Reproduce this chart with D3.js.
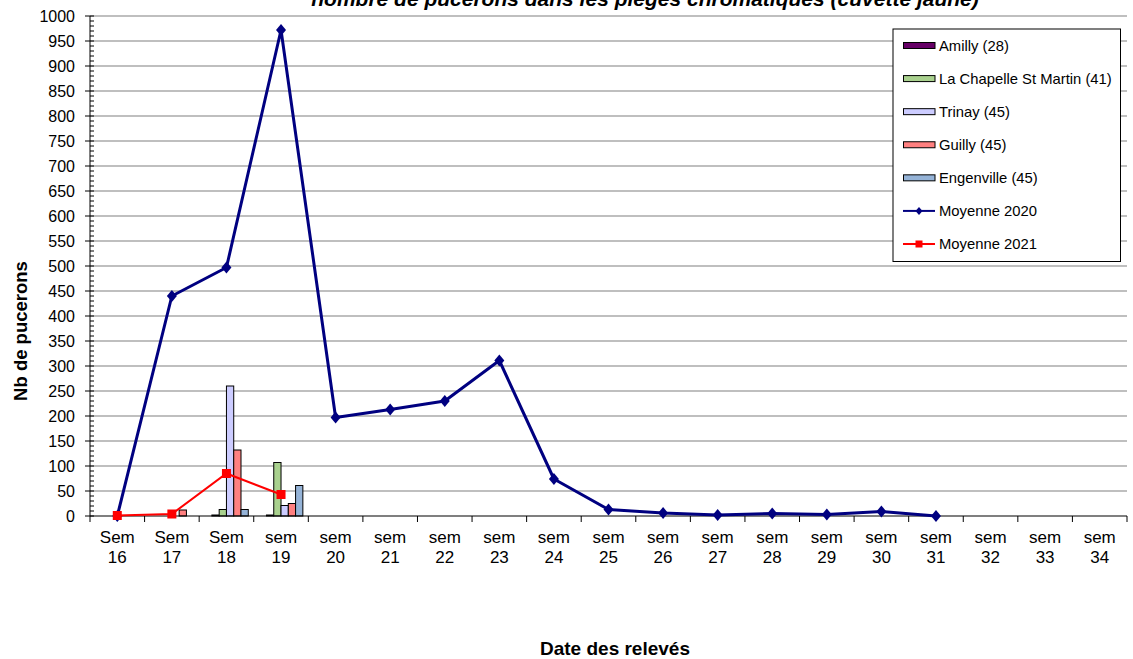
<!DOCTYPE html>
<html>
<head>
<meta charset="utf-8">
<script src="https://cdn.jsdelivr.net/npm/d3@7/dist/d3.min.js"></script>
<style>
  html, body { margin: 0; padding: 0; background: #fff; overflow: hidden; }
  svg { display: block; font-family: "Liberation Sans", Arial, sans-serif; }
</style>
</head>
<body>
<svg id="chart" width="1133" height="659"></svg>
<script>
// ---- DATA ----
const categories = ["Sem 16","Sem 17","Sem 18","sem 19","sem 20","sem 21","sem 22","sem 23","sem 24","sem 25","sem 26","sem 27","sem 28","sem 29","sem 30","sem 31","sem 32","sem 33","sem 34"];
const barSeriesNames = ["Amilly (28)","La Chapelle St Martin (41)","Trinay (45)","Guilly (45)","Engenville (45)"];
const amilly     = [0, 0, 2, 2];
const chapelle   = [0, 0, 13, 107];
const trinay     = [0, 0, 260, 21];
const guilly     = [0, 12, 132, 25];
const engenville = [0, 0, 13, 61];
const moyenne2020 = [0, 440, 497, 972, 197, 213, 230, 311, 74, 13, 6, 2, 5, 3, 9, 0];
const moyenne2021 = [1, 4, 85, 43];
const yTicks = [0,50,100,150,200,250,300,350,400,450,500,550,600,650,700,750,800,850,900,950,1000];
const title = "nombre de pucerons dans les pièges chromatiques (cuvette jaune)";
const yTitle = "Nb de pucerons";
const xTitle = "Date des relevés";

const barColors = ["#660066", "#A9D18E", "#CCCCFF", "#FF8080", "#95B3D7"];
const barSeries = [amilly, chapelle, trinay, guilly, engenville];

// ---- LAYOUT ----
const svg = d3.select("#chart");
const pLeft = 90, pRight = 1127, pTop = 16, pBottom = 516;

const x = d3.scaleBand().domain(categories).range([pLeft, pRight]).padding(0);
const y = d3.scaleLinear().domain([0, 1000]).range([pBottom, pTop]);
const slots = ["__gap"].concat(barSeriesNames);
const xs = d3.scaleBand().domain(slots).range([0, x.bandwidth()]).paddingInner(0).paddingOuter(0.75);

// gridlines
svg.append("g").selectAll("line").data(yTicks.filter(d => d > 0)).join("line")
  .attr("x1", pLeft).attr("x2", pRight)
  .attr("y1", d => y(d)).attr("y2", d => y(d))
  .attr("stroke", "#808080").attr("stroke-width", 1.2);

// bars
const barG = svg.append("g");
barSeries.forEach((arr, si) => {
  barG.selectAll(null).data(arr.map((v, i) => ({v, c: categories[i]})).filter(d => d.v > 0)).join("rect")
    .attr("x", d => x(d.c) + xs(barSeriesNames[si]))
    .attr("width", xs.bandwidth())
    .attr("y", d => y(d.v))
    .attr("height", d => y(0) - y(d.v))
    .attr("fill", barColors[si])
    .attr("stroke", "#000").attr("stroke-width", 1);
});

// y axis
const yMinor = d3.range(0, 1001, 10);
const yAxisG = svg.append("g");
yAxisG.append("line").attr("x1", pLeft).attr("x2", pLeft).attr("y1", pTop).attr("y2", pBottom).attr("stroke", "#000").attr("stroke-width", 1);
yAxisG.selectAll(".minor").data(yMinor).join("line")
  .attr("x1", pLeft).attr("x2", pLeft + 4)
  .attr("y1", d => y(d)).attr("y2", d => y(d))
  .attr("stroke", "#000").attr("stroke-width", 1);
yAxisG.selectAll(".major").data(yTicks).join("line")
  .attr("x1", pLeft - 5).attr("x2", pLeft)
  .attr("y1", d => y(d)).attr("y2", d => y(d))
  .attr("stroke", "#000").attr("stroke-width", 1);
yAxisG.selectAll("text").data(yTicks).join("text")
  .attr("x", 75).attr("y", d => y(d)).attr("dy", "0.35em")
  .attr("text-anchor", "end").attr("font-size", 16).attr("fill", "#000")
  .text(d => d);

// x axis
const xAxisG = svg.append("g");
xAxisG.append("line").attr("x1", pLeft).attr("x2", pRight).attr("y1", pBottom).attr("y2", pBottom).attr("stroke", "#000").attr("stroke-width", 1.2);
const bounds = categories.map(c => x(c)).concat([pRight]);
xAxisG.selectAll(".tk").data(bounds).join("line")
  .attr("x1", d => d).attr("x2", d => d).attr("y1", pBottom).attr("y2", pBottom + 6)
  .attr("stroke", "#000").attr("stroke-width", 1);
const lbl = xAxisG.selectAll(".lbl").data(categories).join("text")
  .attr("text-anchor", "middle").attr("font-size", 17).attr("fill", "#000");
lbl.each(function(c) {
  const parts = c.split(" ");
  const t = d3.select(this);
  const cx = x(c) + x.bandwidth() / 2;
  t.append("tspan").attr("x", cx).attr("y", 543).text(parts[0]);
  t.append("tspan").attr("x", cx).attr("y", 563).text(parts[1]);
});

// lines
const lineGen = d3.line().x((d, i) => x(categories[i]) + x.bandwidth() / 2).y(d => y(d));
svg.append("path").datum(moyenne2020).attr("d", lineGen)
  .attr("fill", "none").attr("stroke", "#000080").attr("stroke-width", 3).attr("stroke-linejoin", "round");
svg.append("g").selectAll("path").data(moyenne2020).join("path")
  .attr("transform", (d, i) => `translate(${x(categories[i]) + x.bandwidth() / 2},${y(d)})`)
  .attr("d", "M0,-6L5,0L0,6L-5,0Z").attr("fill", "#000080");

svg.append("path").datum(moyenne2021).attr("d", lineGen)
  .attr("fill", "none").attr("stroke", "#FF0000").attr("stroke-width", 2);
svg.append("g").selectAll("rect").data(moyenne2021).join("rect")
  .attr("x", (d, i) => x(categories[i]) + x.bandwidth() / 2 - 4.5)
  .attr("y", d => y(d) - 4.5)
  .attr("width", 9).attr("height", 9).attr("fill", "#FF0000");

// titles
svg.append("text").attr("x", 645).attr("y", 6).attr("text-anchor", "middle")
  .attr("font-size", 21).attr("font-weight", "bold").attr("font-style", "italic").text(title);
svg.append("text").attr("transform", "translate(27,331) rotate(-90)").attr("text-anchor", "middle")
  .attr("font-size", 18.5).attr("font-weight", "bold").text(yTitle);
svg.append("text").attr("x", 615).attr("y", 655).attr("text-anchor", "middle")
  .attr("font-size", 19).attr("font-weight", "bold").text(xTitle);

// legend
const lg = svg.append("g");
lg.append("rect").attr("x", 893).attr("y", 29).attr("width", 227.5).attr("height", 232.5)
  .attr("fill", "#fff").attr("stroke", "#000").attr("stroke-width", 1);
const legendItems = barSeriesNames.map((n, i) => ({name: n, type: "bar", color: barColors[i]}))
  .concat([{name: "Moyenne 2020", type: "line2020"}, {name: "Moyenne 2021", type: "line2021"}]);
const ly = d3.scalePoint().domain(legendItems.map(d => d.name)).range([45.5, 244]);
legendItems.forEach(it => {
  const cy = ly(it.name);
  if (it.type === "bar") {
    lg.append("rect").attr("x", 903.5).attr("y", cy - 3).attr("width", 31.5).attr("height", 6)
      .attr("fill", it.color).attr("stroke", "#000").attr("stroke-width", 1);
  } else if (it.type === "line2020") {
    lg.append("line").attr("x1", 903).attr("x2", 935).attr("y1", cy).attr("y2", cy).attr("stroke", "#000080").attr("stroke-width", 2);
    lg.append("path").attr("transform", `translate(919,${cy})`).attr("d", "M0,-4L3.5,0L0,4L-3.5,0Z").attr("fill", "#000080");
  } else {
    lg.append("line").attr("x1", 903).attr("x2", 935).attr("y1", cy).attr("y2", cy).attr("stroke", "#FF0000").attr("stroke-width", 2);
    lg.append("rect").attr("x", 915.5).attr("y", cy - 3.5).attr("width", 7).attr("height", 7).attr("fill", "#FF0000");
  }
  lg.append("text").attr("x", 939).attr("y", cy).attr("dy", "0.36em").attr("font-size", 14.8).text(it.name);
});
</script>
</body>
</html>
